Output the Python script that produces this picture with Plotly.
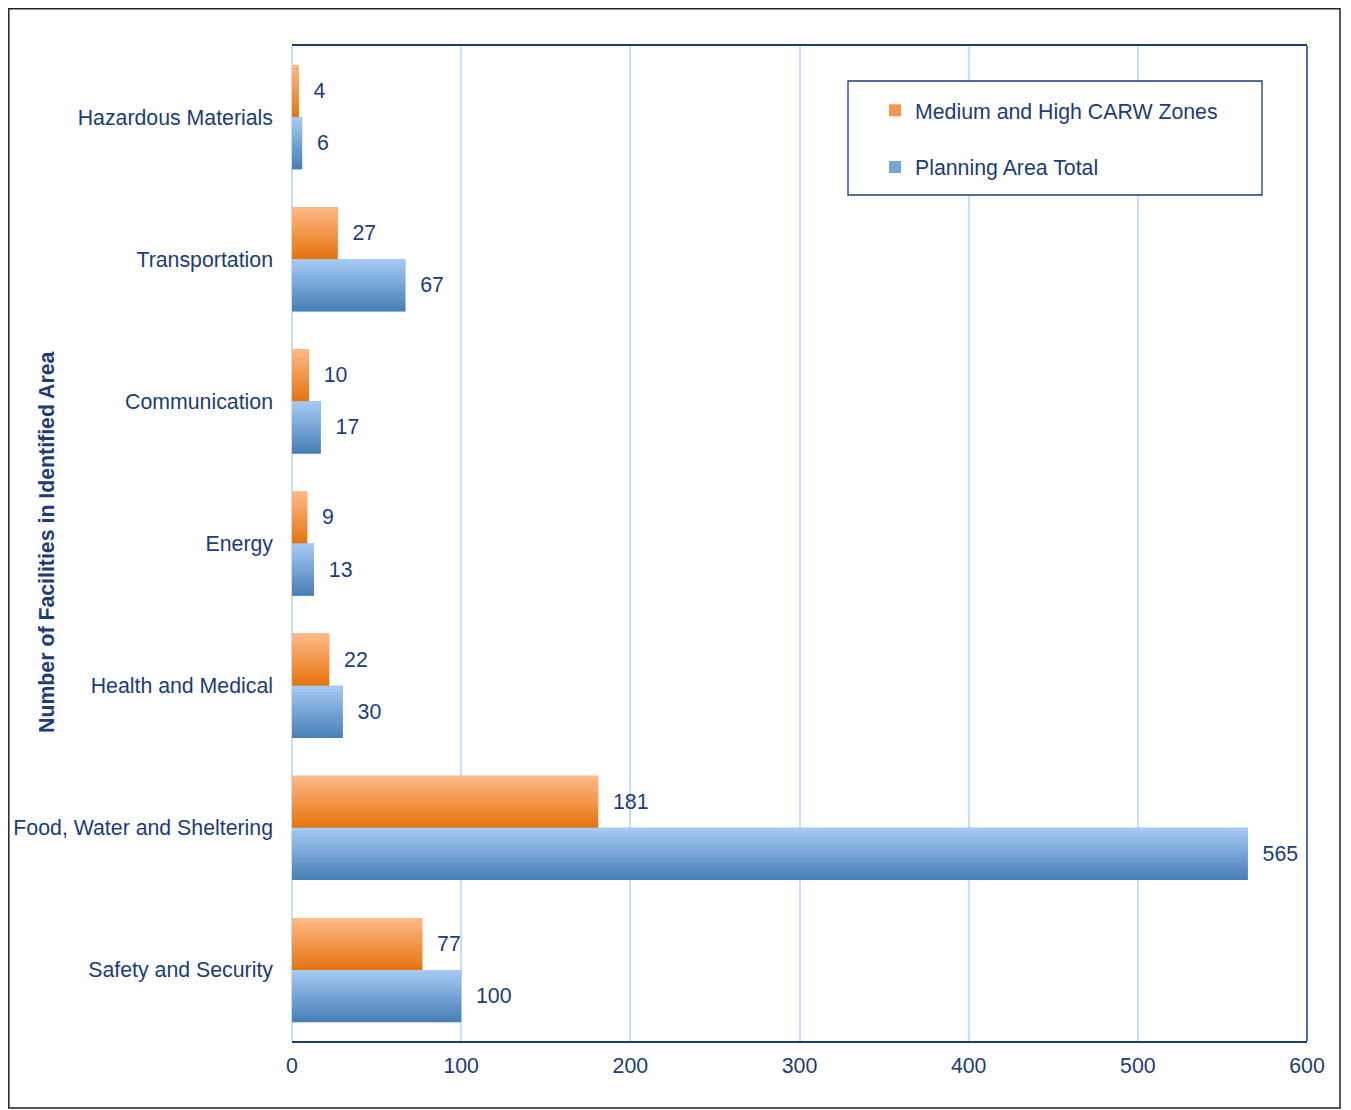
import plotly.graph_objects as go

categories = ["Hazardous Materials", "Transportation", "Communication", "Energy",
              "Health and Medical", "Food, Water and Sheltering", "Safety and Security"]
medium_high = [4, 27, 10, 9, 22, 181, 77]
planning_total = [6, 67, 17, 13, 30, 565, 100]
x_ticks = [0, 100, 200, 300, 400, 500, 600]

NAVY = "#1B3D7A"
FONT = "Liberation Sans, Arial, sans-serif"
FS = 21.3

# page has an 8px body margin: plot area on screen 292..1307 x 45..1040
L, T, W, H = 284, 38, 1015, 995

def px(x):
    return (x - L) / W

def py(y):
    return (T + H - y) / H

series = [
    ("Medium and High CARW Zones", medium_high, (253, 184, 135), (230, 117, 14), "#F2974B", -0.366),
    ("Planning Area Total", planning_total, (165, 201, 243), (72, 128, 184), "#77A5D8", 0.0),
]
BW = 0.366
N = 16

fig = go.Figure()

for name, vals, top, bot, mid, off in series:
    fig.add_trace(go.Bar(
        name=name, orientation="h", x=vals, y=categories,
        width=BW, offset=off, marker=dict(color=mid, line=dict(width=0)),
        text=["\u00a0\u00a0" + str(v) for v in vals], textposition="outside",
        constraintext="none", cliponaxis=False,
        textfont=dict(family=FONT, size=FS, color=NAVY),
        legendgroup=name, legendrank=1 if off < 0 else 2,
    ))
    for k in range(N):
        t = k / (N - 1)
        c = tuple(round(top[i] + (bot[i] - top[i]) * t) for i in range(3))
        fig.add_trace(go.Bar(
            orientation="h", x=vals, y=categories, showlegend=False, hoverinfo="skip",
            legendgroup=name,
            width=BW / N + 0.002, offset=off + k * BW / N,
            marker=dict(color="rgb(%d,%d,%d)" % c, line=dict(width=0)),
        ))

# legend frame (screen L 848..1262, T 81..195)
fig.add_shape(type="rect", xref="paper", yref="paper",
              x0=px(848 - 8), x1=px(1262 - 8), y0=py(195 - 8), y1=py(81 - 8),
              line=dict(color=NAVY, width=1.3), fillcolor="white", layer="above")
fig.add_shape(type="line", xref="paper", yref="paper", x0=1, x1=1, y0=0, y1=1,
              line=dict(color=NAVY, width=1.5))
# outer border
fig.add_shape(type="rect", xref="paper", yref="paper",
              x0=px(0.8), x1=px(1332), y0=py(1100), y1=py(0.8),
              line=dict(color="#222222", width=1.5), fillcolor="rgba(0,0,0,0)", layer="below")

fig.add_annotation(text="<b>Number of Facilities in Identified Area</b>", textangle=-90,
                   xref="paper", yref="paper", x=px(47 - 8), y=py(542 - 8),
                   xanchor="center", yanchor="middle",
                   showarrow=False, font=dict(family=FONT, size=FS, color=NAVY))

fig.update_layout(
    width=1351, height=1110,
    margin=dict(l=L, r=1351 - L - W, t=T, b=1110 - T - H, autoexpand=False),
    paper_bgcolor="white", plot_bgcolor="white",
    barmode="overlay",
    font=dict(family=FONT, size=FS, color=NAVY),
    showlegend=True,
    legend=dict(x=px(875 - 8), y=py(90 - 8), xanchor="left", yanchor="top",
                bgcolor="rgba(0,0,0,0)", borderwidth=0, tracegroupgap=26,
                traceorder="grouped", font=dict(family=FONT, size=FS, color=NAVY),
                itemwidth=30),
    xaxis=dict(range=[0, 600], tickvals=x_ticks, showgrid=True, gridcolor="#C8DDF6",
               gridwidth=2, zeroline=True, zerolinecolor="#C8DDF6", zerolinewidth=2,
               showline=True, mirror=True, linecolor=NAVY, linewidth=1.5,
               ticks="", ticklabelstandoff=5, automargin=False,
               tickfont=dict(family=FONT, size=FS, color=NAVY)),
    yaxis=dict(type="category", autorange="reversed", showgrid=False, zeroline=False,
               showline=False, ticks="", ticklabelstandoff=18, automargin=False,
               tickfont=dict(family=FONT, size=FS, color=NAVY)),
)

fig.write_html("out.html")
